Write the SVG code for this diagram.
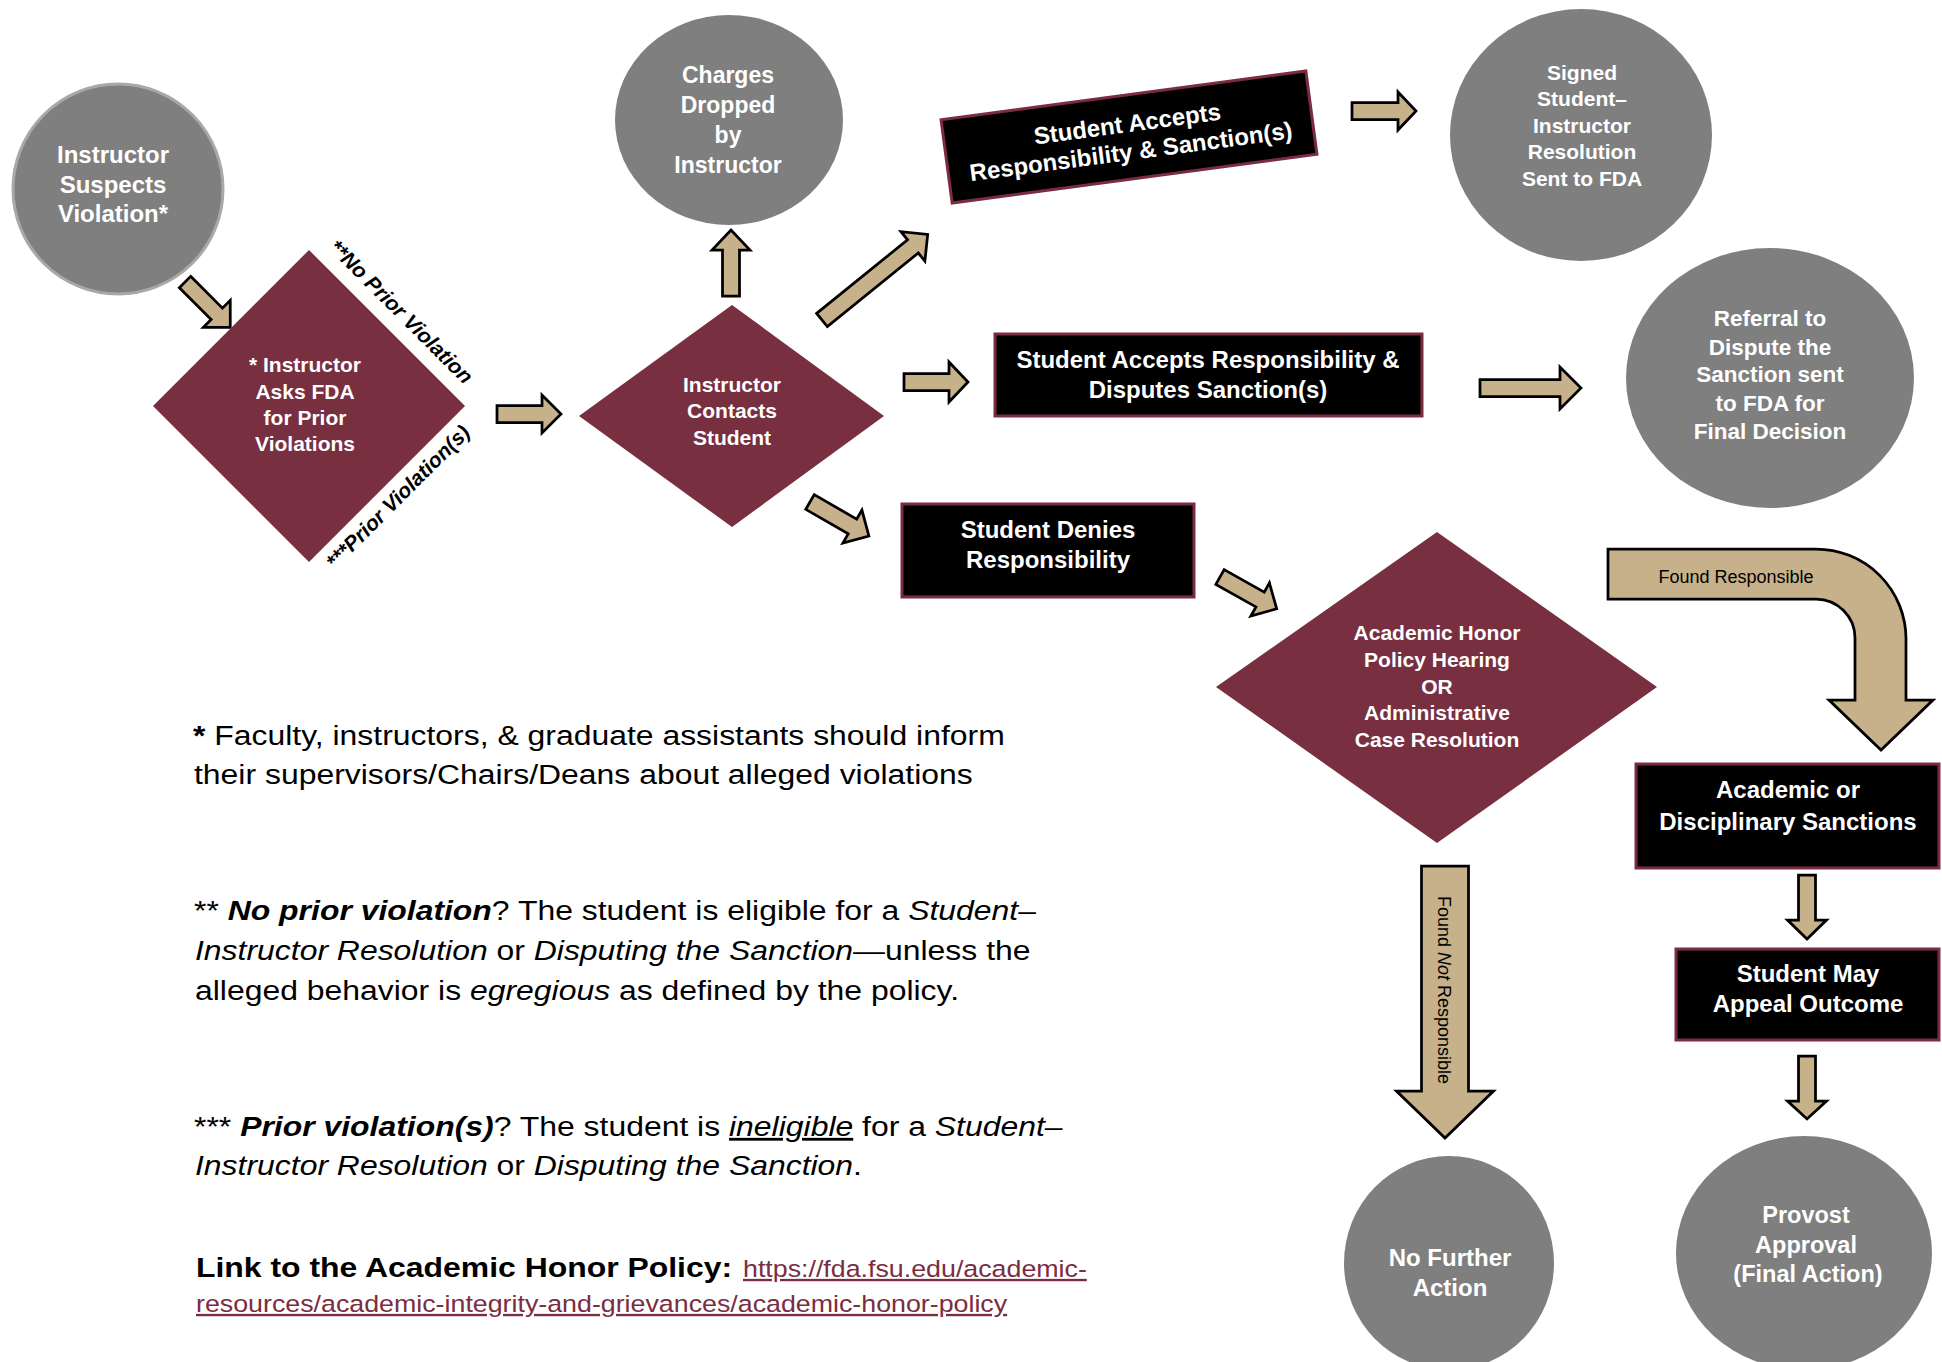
<svg xmlns="http://www.w3.org/2000/svg" width="1942" height="1362" viewBox="0 0 1942 1362">
<style>
.bg{fill:#ffffff}
.gc{fill:#7f7f7f}
.dm{fill:#782f40}
.bx{fill:#000000;stroke:#7b2d3f;stroke-width:3}
.ar{fill:#c6b18b;stroke:#000000;stroke-width:2.75;stroke-linejoin:miter}
.nt{font-family:"Liberation Sans",Arial,sans-serif;font-weight:bold;fill:#ffffff;text-anchor:middle}
.lb{font-family:"Liberation Sans",Arial,sans-serif;font-weight:bold;font-style:italic;fill:#000000;text-anchor:middle;font-size:21px}
.al{font-family:"Liberation Sans",Arial,sans-serif;fill:#000000;text-anchor:middle;font-size:18px}
.note{font-family:"Liberation Sans",Arial,sans-serif;fill:#000000;font-size:28px}
.b{font-weight:bold}
.i{font-style:italic}
.lnk{font-family:"Liberation Sans",Arial,sans-serif;fill:#7b2d3f;font-size:23.5px;text-decoration:underline}
</style>
<rect class="bg" x="0" y="0" width="1942" height="1362"/>

<g id="connectors">
  <polygon class="ar" transform="translate(185,282) rotate(45)" points="0,-8 45,-8 45,-19 64,0 45,19 45,8 0,8"/>
  <polygon class="ar" transform="translate(497,414)" points="0,-8.5 45,-8.5 45,-19 64,0 45,19 45,8.5 0,8.5"/>
  <polygon class="ar" transform="translate(731,296) rotate(-90)" points="0,-8.5 46,-8.5 46,-19 66,0 46,19 46,8.5 0,8.5"/>
  <polygon class="ar" transform="translate(822,320) rotate(-39)" points="0,-8.5 117,-8.5 117,-19 136,0 117,19 117,8.5 0,8.5"/>
  <polygon class="ar" transform="translate(904,382)" points="0,-8.5 45,-8.5 45,-20 64,0 45,20 45,8.5 0,8.5"/>
  <polygon class="ar" transform="translate(1352,111)" points="0,-8.5 46,-8.5 46,-19 64,0 46,19 46,8.5 0,8.5"/>
  <polygon class="ar" transform="translate(1480,388)" points="0,-8.5 80,-8.5 80,-21 101,0 80,21 80,8.5 0,8.5"/>
  <polygon class="ar" transform="translate(810,502) rotate(30)" points="0,-8.5 49,-8.5 49,-19 68,0 49,19 49,8.5 0,8.5"/>
  <polygon class="ar" transform="translate(1220,577) rotate(29.3)" points="0,-8.5 46,-8.5 46,-19 65,0 46,19 46,8.5 0,8.5"/>
  <polygon class="ar" transform="translate(1807,875) rotate(90)" points="0,-8.5 45,-8.5 45,-19.5 64,0 45,19.5 45,8.5 0,8.5"/>
  <polygon class="ar" transform="translate(1807,1056) rotate(90)" points="0,-8.5 45,-8.5 45,-19.5 63,0 45,19.5 45,8.5 0,8.5"/>
  <g id="arrow-not-responsible">
    <polygon class="ar" transform="translate(1445,866) rotate(90)" points="0,-23.5 225,-23.5 225,-48.5 272,0 225,48.5 225,23.5 0,23.5"/>
    <text class="al" transform="translate(1438,990) rotate(90)" x="0" y="0">Found <tspan class="i">Not</tspan> Responsible</text>
  </g>
  <g id="arrow-responsible">
    <path class="ar" d="M1608,549 H1816 A90,90 0 0 1 1906,639 V700 H1933 L1881,750 L1829,700 H1855 V638 A39,39 0 0 0 1816,599 H1608 Z"/>
    <text class="al" x="1736" y="583">Found Responsible</text>
  </g>
  <text class="lb" transform="translate(401,312) rotate(45)" x="0" y="7">**No Prior Violation</text>
  <text class="lb" transform="translate(398,497) rotate(-45)" x="0" y="7">***Prior Violation(s)</text>
</g>

<g id="n-suspects">
  <circle cx="118" cy="189" r="105" fill="#7f7f7f" stroke="#a8a8a8" stroke-width="3"/>
  <text class="nt" font-size="24"><tspan x="113" y="163">Instructor</tspan><tspan x="113" y="193">Suspects</tspan><tspan x="113" y="222">Violation*</tspan></text>
</g>

<g id="n-asks-fda">
  <polygon class="dm" points="309,250 465,406 309,562 153,406"/>
  <text class="nt" font-size="21"><tspan x="305" y="372">* Instructor</tspan><tspan x="305" y="399">Asks FDA</tspan><tspan x="305" y="425">for Prior</tspan><tspan x="305" y="451">Violations</tspan></text>
</g>

<g id="n-contacts">
  <polygon class="dm" points="732,305 884,416 732,527 579,416"/>
  <text class="nt" font-size="21"><tspan x="732" y="392">Instructor</tspan><tspan x="732" y="418">Contacts</tspan><tspan x="732" y="445">Student</tspan></text>
</g>

<g id="n-dropped">
  <ellipse class="gc" cx="729" cy="120" rx="114" ry="105"/>
  <text class="nt" font-size="23"><tspan x="728" y="83">Charges</tspan><tspan x="728" y="113">Dropped</tspan><tspan x="728" y="143">by</tspan><tspan x="728" y="173">Instructor</tspan></text>
</g>

<g id="n-accepts-sanction" transform="translate(1129,137) rotate(-7.6)">
  <rect class="bx" x="-184" y="-42" width="368" height="84"/>
  <text class="nt" font-size="24"><tspan x="0" y="-5">Student Accepts</tspan><tspan x="0" y="23">Responsibility &amp; Sanction(s)</tspan></text>
</g>

<g id="n-signed">
  <ellipse class="gc" cx="1581" cy="135" rx="131" ry="126"/>
  <text class="nt" font-size="21"><tspan x="1582" y="80">Signed</tspan><tspan x="1582" y="106">Student–</tspan><tspan x="1582" y="133">Instructor</tspan><tspan x="1582" y="159">Resolution</tspan><tspan x="1582" y="186">Sent to FDA</tspan></text>
</g>

<g id="n-accepts-disputes">
  <rect class="bx" x="995" y="334" width="427" height="82"/>
  <text class="nt" font-size="24"><tspan x="1208" y="368">Student Accepts Responsibility &amp;</tspan><tspan x="1208" y="398">Disputes Sanction(s)</tspan></text>
</g>

<g id="n-referral">
  <ellipse class="gc" cx="1770" cy="378" rx="144" ry="130"/>
  <text class="nt" font-size="22.5"><tspan x="1770" y="326">Referral to</tspan><tspan x="1770" y="355">Dispute the</tspan><tspan x="1770" y="382">Sanction sent</tspan><tspan x="1770" y="411">to FDA for</tspan><tspan x="1770" y="439">Final Decision</tspan></text>
</g>

<g id="n-denies">
  <rect class="bx" x="902" y="504" width="292" height="93"/>
  <text class="nt" font-size="24"><tspan x="1048" y="538">Student Denies</tspan><tspan x="1048" y="568">Responsibility</tspan></text>
</g>

<g id="n-hearing">
  <polygon class="dm" points="1437,532 1657,687 1437,843 1216,687"/>
  <text class="nt" font-size="21"><tspan x="1437" y="640">Academic Honor</tspan><tspan x="1437" y="667">Policy Hearing</tspan><tspan x="1437" y="694">OR</tspan><tspan x="1437" y="720">Administrative</tspan><tspan x="1437" y="747">Case Resolution</tspan></text>
</g>

<g id="n-sanctions">
  <rect class="bx" x="1636" y="764" width="303" height="104"/>
  <text class="nt" font-size="24"><tspan x="1788" y="798">Academic or</tspan><tspan x="1788" y="830">Disciplinary Sanctions</tspan></text>
</g>

<g id="n-appeal">
  <rect class="bx" x="1676" y="949" width="263" height="91"/>
  <text class="nt" font-size="24"><tspan x="1808" y="982">Student May</tspan><tspan x="1808" y="1012">Appeal Outcome</tspan></text>
</g>

<g id="n-provost">
  <ellipse class="gc" cx="1804" cy="1253" rx="128" ry="117"/>
  <text class="nt" font-size="23.5"><tspan x="1806" y="1223">Provost</tspan><tspan x="1806" y="1253">Approval</tspan><tspan x="1808" y="1282">(Final Action)</tspan></text>
</g>

<g id="n-no-further">
  <ellipse class="gc" cx="1449" cy="1263" rx="105" ry="107"/>
  <text class="nt" font-size="24"><tspan x="1450" y="1266">No Further</tspan><tspan x="1450" y="1296">Action</tspan></text>
</g>

<g id="notes">
  <text class="note" transform="translate(193,745) scale(1.14,1)" x="0" y="0"><tspan class="b">*</tspan> Faculty, instructors, &amp; graduate assistants should inform</text>
  <text class="note" transform="translate(194,784) scale(1.14,1)" x="0" y="0">their supervisors/Chairs/Deans about alleged violations</text>

  <text class="note" transform="translate(194,920) scale(1.14,1)" x="0" y="0">** <tspan class="b i">No prior violation</tspan>? The student is eligible for a <tspan class="i">Student</tspan>–</text>
  <text class="note" transform="translate(195,960) scale(1.14,1)" x="0" y="0"><tspan class="i">Instructor Resolution</tspan> or <tspan class="i">Disputing the Sanction</tspan>—unless the</text>
  <text class="note" transform="translate(195,1000) scale(1.14,1)" x="0" y="0">alleged behavior is <tspan class="i">egregious</tspan> as defined by the policy.</text>

  <text class="note" transform="translate(194,1136) scale(1.14,1)" x="0" y="0">*** <tspan class="b i">Prior violation(s)</tspan>? The student is <tspan class="i" text-decoration="underline">ineligible</tspan> for a <tspan class="i">Student</tspan>–</text>
  <text class="note" transform="translate(195,1175) scale(1.14,1)" x="0" y="0"><tspan class="i">Instructor Resolution</tspan> or <tspan class="i">Disputing the Sanction</tspan>.</text>

  <text class="note b" transform="translate(196,1277) scale(1.14,1)" x="0" y="0">Link to the Academic Honor Policy:</text>
  <text class="lnk" transform="translate(743,1277) scale(1.14,1)" x="0" y="0">https://fda.fsu.edu/academic-</text>
  <text class="lnk" transform="translate(196,1312) scale(1.14,1)" x="0" y="0">resources/academic-integrity-and-grievances/academic-honor-policy</text>
</g>
</svg>
